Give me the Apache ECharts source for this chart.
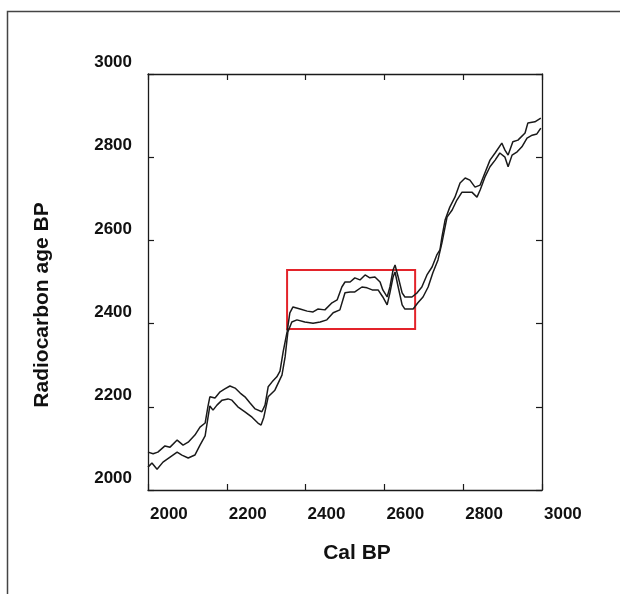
<!DOCTYPE html>
<html>
<head>
<meta charset="utf-8">
<script src="https://cdn.jsdelivr.net/npm/echarts@6/dist/echarts.min.js"></script>
<style>
  html, body { margin: 0; padding: 0; background: #fff; }
  #chart { width: 620px; height: 594px; }
</style>
</head>
<body>
<div id="chart"></div>
<script>
// calibration curve, upper and lower band (Cal BP vs radiocarbon age BP)

const upperCal = [2000, 2013, 2025, 2043, 2056, 2074, 2089, 2102, 2119, 2132, 2145, 2152, 2157, 2170, 2183, 2195, 2208, 2221, 2234, 2246, 2259, 2272, 2289, 2297, 2305, 2315, 2327, 2335, 2343, 2353, 2360, 2368, 2386, 2404, 2419, 2431, 2449, 2467, 2480, 2492, 2500, 2513, 2525, 2538, 2551, 2563, 2576, 2589, 2596, 2607, 2614, 2622, 2627, 2635, 2645, 2652, 2670, 2683, 2695, 2708, 2721, 2733, 2741, 2746, 2754, 2766, 2779, 2792, 2805, 2817, 2830, 2843, 2855, 2868, 2881, 2898, 2906, 2914, 2926, 2939, 2957, 2964, 2982, 2997];
const upperAge = [2091, 2087, 2091, 2106, 2103, 2120, 2108, 2115, 2132, 2151, 2161, 2200, 2224, 2221, 2236, 2243, 2250, 2245, 2233, 2224, 2209, 2195, 2188, 2204, 2248, 2260, 2272, 2286, 2332, 2380, 2426, 2440, 2435, 2430, 2428, 2435, 2433, 2450, 2457, 2488, 2500, 2500, 2510, 2505, 2517, 2510, 2512, 2500, 2481, 2464, 2488, 2529, 2541, 2512, 2474, 2464, 2464, 2474, 2488, 2517, 2536, 2565, 2577, 2608, 2649, 2680, 2704, 2738, 2750, 2745, 2728, 2733, 2762, 2793, 2810, 2834, 2817, 2805, 2837, 2841, 2858, 2882, 2885, 2894];

const lowerCal = [2000, 2010, 2023, 2038, 2056, 2074, 2086, 2102, 2119, 2132, 2145, 2152, 2157, 2165, 2175, 2188, 2203, 2213, 2228, 2246, 2264, 2279, 2287, 2294, 2305, 2322, 2340, 2348, 2355, 2365, 2378, 2398, 2419, 2437, 2454, 2470, 2487, 2500, 2513, 2525, 2543, 2556, 2569, 2584, 2596, 2607, 2614, 2622, 2627, 2635, 2645, 2652, 2673, 2685, 2698, 2711, 2723, 2736, 2746, 2759, 2772, 2784, 2797, 2810, 2822, 2835, 2843, 2855, 2868, 2881, 2893, 2906, 2914, 2924, 2937, 2949, 2962, 2975, 2987, 2997];
const lowerAge = [2055, 2065, 2050, 2067, 2079, 2091, 2084, 2077, 2084, 2108, 2130, 2173, 2202, 2192, 2204, 2216, 2219, 2216, 2200, 2188, 2175, 2161, 2156, 2175, 2224, 2240, 2276, 2320, 2380, 2404, 2409, 2404, 2401, 2404, 2409, 2426, 2433, 2474, 2476, 2476, 2488, 2486, 2481, 2481, 2464, 2445, 2474, 2512, 2524, 2488, 2445, 2435, 2435, 2450, 2464, 2488, 2522, 2553, 2594, 2656, 2673, 2697, 2716, 2716, 2716, 2704, 2721, 2752, 2777, 2793, 2810, 2800, 2777, 2805, 2813, 2825, 2846, 2853, 2856, 2870];

// highlighted plateau (red box)
const boxCal = [2353, 2678];
const boxAge = [2387, 2529];

const axisMin = 2000;
const axisMax = 3000;
const tickStep = 200;

function pairs(xs, ys) {
    let out = [];
    for (let i = 0; i < xs.length; i++) {
        out.push([xs[i], ys[i]]);
    }
    return out;
}

const chart = echarts.init(document.getElementById('chart'));

const lineCol = '#1a1a1a';
const fontFam = '"Liberation Sans", Arial, sans-serif';

// shared axis look: ticks pointing into the plot
const baseAxis = {
    type: 'value',
    min: axisMin,
    max: axisMax,
    interval: tickStep,
    splitLine: { show: false },
    axisLine: { show: true, onZero: false, lineStyle: { color: lineCol, width: 1.3 } },
    axisTick: { show: true, inside: true, length: 6, lineStyle: { color: lineCol, width: 1.2 } }
};

const plainNum = v => String(v); // no thousands separator

const option = {
    animation: false,
    backgroundColor: '#fff',
    grid: { left: 148, top: 74, width: 394, height: 416, containLabel: false },
    xAxis: [
        Object.assign({}, baseAxis, {
            position: 'bottom',
            axisLabel: {
                show: true, margin: 16, align: 'left', padding: [0, 0, 0, 2], formatter: plainNum,
                color: '#111', fontSize: 17, fontWeight: 'bold', fontFamily: fontFam
            }
        }),
        Object.assign({}, baseAxis, { position: 'top', axisLabel: { show: false } })
    ],
    yAxis: [
        Object.assign({}, baseAxis, {
            position: 'left',
            axisLabel: {
                show: true, margin: 16, verticalAlign: 'bottom', padding: [0, 0, 3, 0], formatter: plainNum,
                color: '#111', fontSize: 17, fontWeight: 'bold', fontFamily: fontFam
            }
        }),
        Object.assign({}, baseAxis, { position: 'right', axisLabel: { show: false } })
    ],
    graphic: [
        {
            // outer frame
            type: 'rect', silent: true,
            shape: { x: 7.5, y: 11.5, width: 700, height: 700 },
            style: { fill: 'none', stroke: '#444', lineWidth: 1.5 }
        },
        {
            type: 'text', silent: true,
            x: 357, y: 553,
            style: {
                text: 'Cal BP', x: 0, y: 0, align: 'center', verticalAlign: 'middle',
                fill: '#111', font: 'bold 21px ' + fontFam
            }
        },
        {
            type: 'text', silent: true,
            x: 42, y: 305, rotation: Math.PI / 2,
            style: {
                text: 'Radiocarbon age BP', x: 0, y: 0, align: 'center', verticalAlign: 'middle',
                fill: '#111', font: 'bold 21px ' + fontFam
            }
        }
    ],
    series: [
        {
            type: 'line', name: 'upper', data: pairs(upperCal, upperAge),
            showSymbol: false, smooth: false, silent: true,
            lineStyle: { color: lineCol, width: 1.5 },
            markArea: {
                silent: true,
                itemStyle: { color: 'rgba(0,0,0,0)', borderColor: '#e3232a', borderWidth: 2 },
                data: [[{ coord: [boxCal[0], boxAge[0]] }, { coord: [boxCal[1], boxAge[1]] }]]
            }
        },
        {
            type: 'line', name: 'lower', data: pairs(lowerCal, lowerAge),
            showSymbol: false, smooth: false, silent: true,
            lineStyle: { color: lineCol, width: 1.5 }
        }
    ]
};

chart.setOption(option);
</script>
</body>
</html>
